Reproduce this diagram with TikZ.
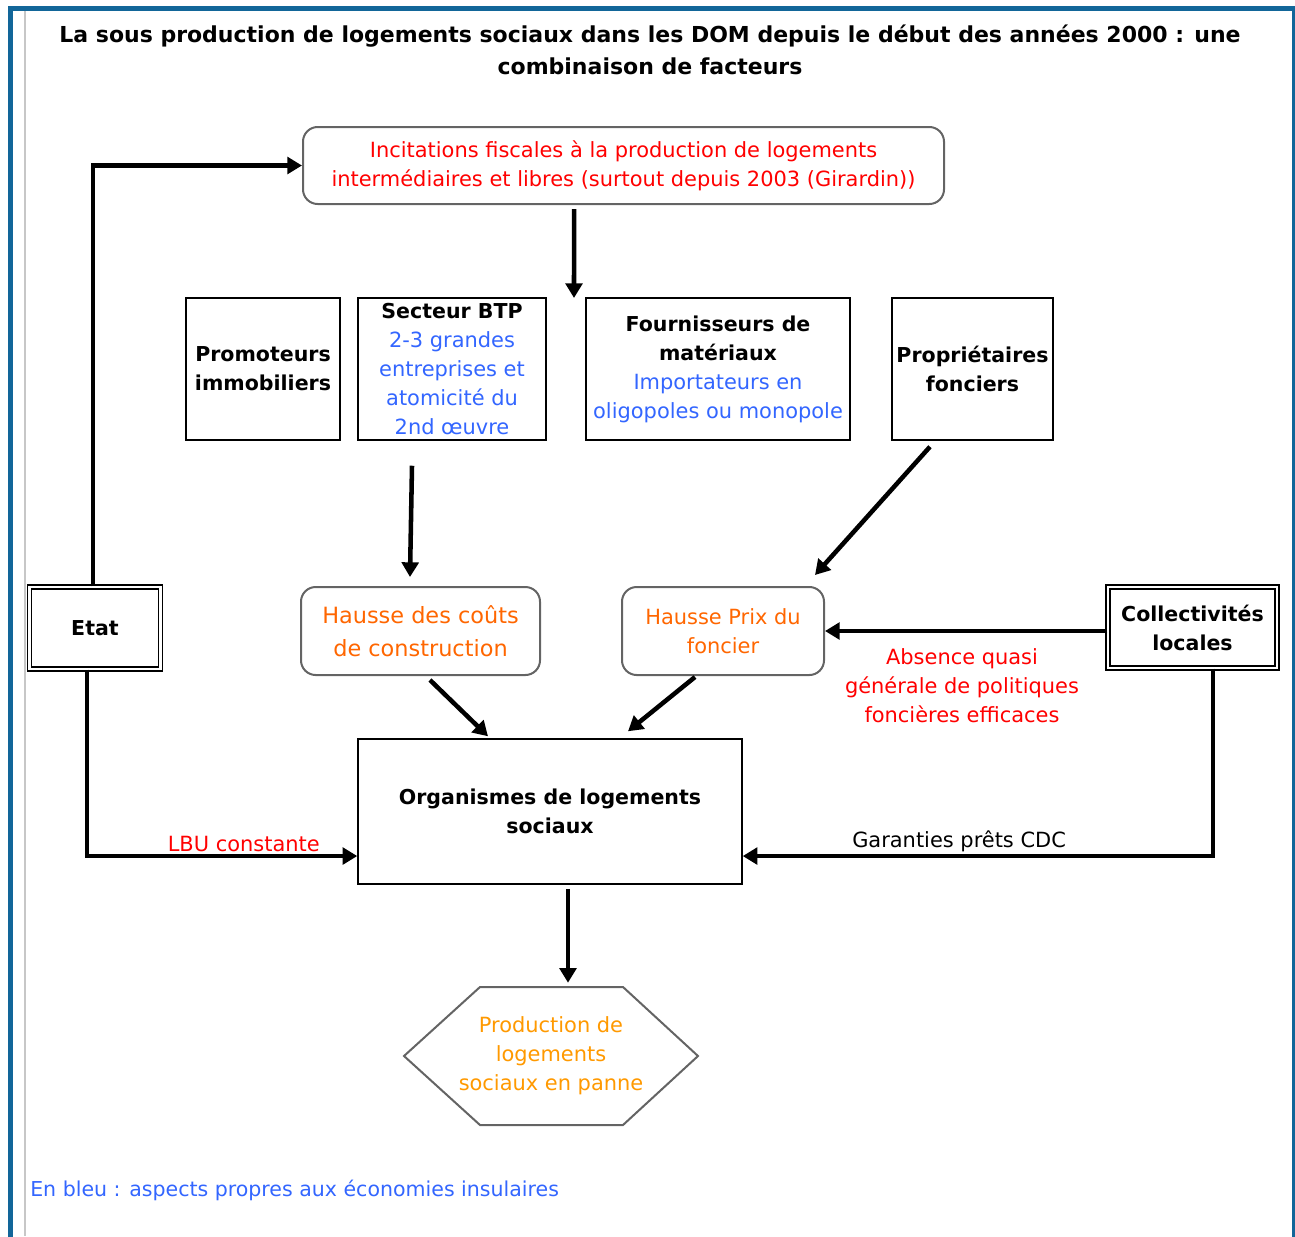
\documentclass[tikz,border=0pt]{standalone}
\usepackage{fontspec}
\setmainfont{DejaVu Sans}
\usetikzlibrary{arrows.meta}
\definecolor{frameblue}{RGB}{18,102,153}
\definecolor{txtred}{RGB}{255,0,0}
\definecolor{txtblue}{RGB}{51,102,255}
\definecolor{txtorange}{RGB}{255,102,0}
\definecolor{txtamber}{RGB}{255,153,0}
\definecolor{boxgray}{RGB}{100,100,100}
\newcommand\bluetxt{\mdseries\fontsize{15.7}{21.75}\selectfont\color{txtblue}}
\begin{document}
\begin{tikzpicture}[x=0.75pt,y=-0.75pt,
  txt/.style={font=\fontsize{15.7}{21.75}\selectfont},
  bld/.style={font=\fontsize{15.4}{21.75}\selectfont\bfseries},
  sq/.style={draw=black, line width=1.1pt, fill=white, inner sep=0pt, align=center, bld},
  rnd/.style={draw=boxgray, line width=1.5pt, rounded corners=11pt, inner sep=0pt, align=center, txt},
  dbl/.style={draw=black, line width=1pt, double=white, double distance=2pt, inner sep=0pt, align=center, bld},
  arr/.style={line width=3.4pt, -{Triangle[length=11pt,width=12.5pt]}},
  lbl/.style={txt, inner sep=1.5pt, align=center}
]
\useasboundingbox (0,0) rectangle (1295,1236);
% frame
\draw[frameblue, line width=3.75pt] (10.5,1240) -- (10.5,8.5) -- (1294,8.5) -- (1294,1240);
\draw[black!22, line width=0.9pt] (25,11) -- (25,1236);

% title
\node[font=\fontsize{16.5}{24}\selectfont\bfseries, align=center] (title) at (650,50)
  {La sous production de logements sociaux dans les DOM depuis le début des années 2000 : une\\ combinaison de facteurs};

% boxes
\node[rnd, text=txtred, minimum width=480.75pt, minimum height=57.75pt] (incit) at (623.5,165.5)
  {Incitations fiscales à la production de logements\\intermédiaires et libres (surtout depuis 2003 (Girardin))};
\node[sq, minimum width=115.5pt, minimum height=106.5pt] (promo) at (263,369)
  {Promoteurs\\immobiliers};
\node[sq, minimum width=141pt, minimum height=106.5pt] (btp) at (452,369)
  {Secteur BTP\\\bluetxt 2-3 grandes\\\bluetxt entreprises et\\\bluetxt atomicité du\\\bluetxt 2nd œuvre};
\node[sq, minimum width=198pt, minimum height=106.5pt] (fourn) at (718,369)
  {Fournisseurs de\\matériaux\\\bluetxt Importateurs en\\\bluetxt oligopoles ou monopole};
\node[sq, minimum width=120.75pt, minimum height=106.5pt] (propr) at (972.5,369)
  {Propriétaires\\fonciers};
\node[dbl, minimum width=98.25pt, minimum height=61.5pt] (etat) at (95,628) {Etat};
\node[dbl, minimum width=126.75pt, minimum height=60.75pt] (coll) at (1192.5,627.5)
  {Collectivités\\locales};
\node[rnd, text=txtorange, minimum width=179.25pt, minimum height=66pt,
  font=\fontsize{16.8}{24.5}\selectfont] (couts) at (420.5,631)
  {Hausse des coûts\\de construction};
\node[rnd, text=txtorange, minimum width=151.5pt, minimum height=66pt] (prix) at (723,631)
  {Hausse Prix du\\foncier};
\node[sq, minimum width=288pt, minimum height=108.75pt] (org) at (550,811.5)
  {Organismes de logements\\sociaux};
% hexagon
\draw[boxgray, line width=1.5pt] (404,1056) -- (480,987) -- (623,987) -- (698,1056) -- (623,1125) -- (480,1125) -- cycle;
\node[txt, text=txtamber, align=center, inner sep=0pt, minimum width=107.25pt, minimum height=103.5pt] (prod) at (551,1056)
  {Production de\\logements\\sociaux en panne};

% labels
\node[lbl, text=txtred] (absence) at (962,686)
  {Absence quasi\\générale de politiques\\foncières efficaces};
\node[text=txtblue, anchor=west, inner sep=0pt, font=\fontsize{15.4}{21.75}\selectfont] (legend) at (30,1190)
  {En bleu : aspects propres aux économies insulaires};

% connectors
\coordinate (incitend) at (574,298);
\draw[arr] ([xshift=-37.1pt,yshift=-3pt]incit.south) -- (incitend);
\draw[arr] ([xshift=-1.5pt]etat.north) |- (incit.west);
\draw[arr] ([xshift=-30pt,yshift=-18.75pt]btp.south) -- ([xshift=-7.9pt,yshift=6.75pt]couts.north);
\draw[arr] ([xshift=-31.9pt,yshift=-4.5pt]propr.south) -- ([xshift=69pt,yshift=8.25pt]prix.north);
\draw[arr] ([xshift=7.1pt,yshift=-3pt]couts.south) -- ([xshift=-46.5pt,yshift=1.5pt]org.north);
\draw[arr] ([xshift=-21pt,yshift=-0.75pt]prix.south) -- ([xshift=58.5pt,yshift=5.25pt]org.north);
\draw[arr] (coll.west |- prix.east) -- (prix.east);
\draw[arr] ([xshift=-6pt]etat.south) |- ([yshift=-33.4pt]org.west)
  node[pos=0.79, above, lbl, text=txtred] {LBU constante};
\draw[arr] ([xshift=15.4pt]coll.south) |- ([yshift=-33.4pt]org.east)
  node[pos=0.77, above, lbl] {Garanties prêts CDC};
\draw[arr] ([xshift=13.5pt,yshift=-3pt]org.south) -- ([xshift=12.75pt,yshift=3pt]prod.north);
\end{tikzpicture}
\end{document}
